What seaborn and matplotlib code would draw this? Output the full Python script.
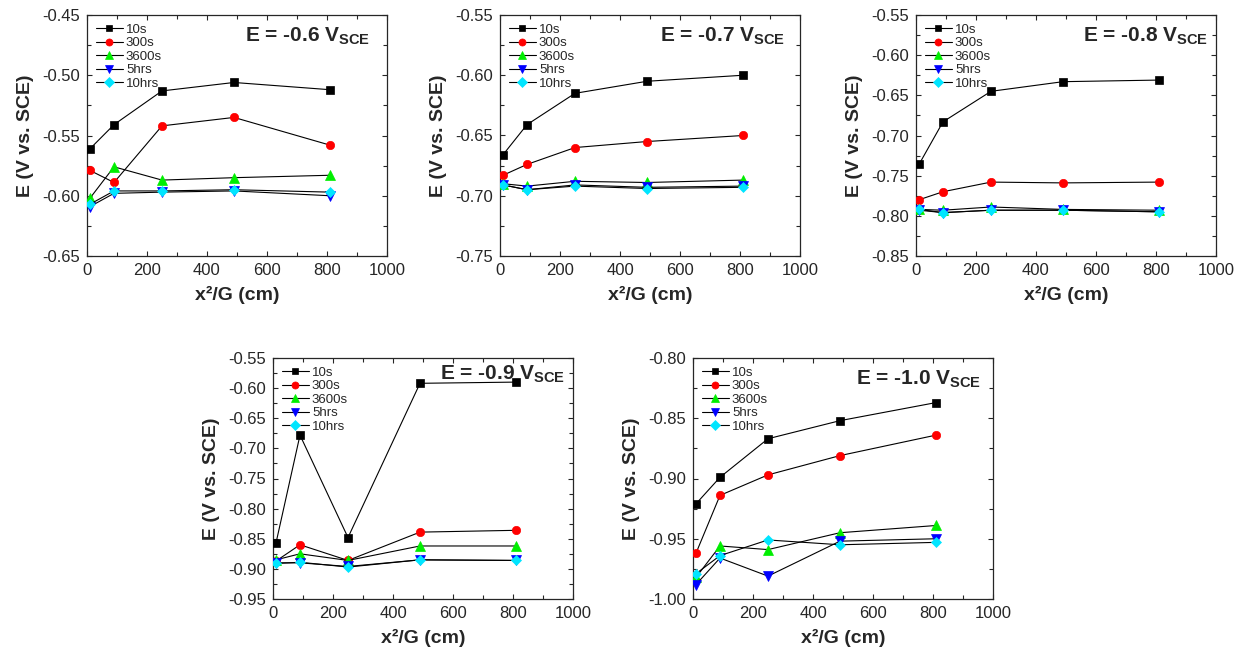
import matplotlib
matplotlib.use("Agg")
import matplotlib.pyplot as plt
import numpy as np
import pandas as pd
import seaborn as sns
from matplotlib.ticker import MultipleLocator, FormatStrFormatter

# ---------------- data ----------------
x_vals = [10, 90, 250, 490, 810]
series_labels = ["10s", "300s", "3600s", "5hrs", "10hrs"]
potentials = ["-0.6", "-0.7", "-0.8", "-0.9", "-1.0"]

e06_10s = [-0.561, -0.541, -0.513, -0.506, -0.512]
e06_300s = [-0.579, -0.589, -0.542, -0.535, -0.558]
e06_3600s = [-0.602, -0.576, -0.587, -0.585, -0.583]
e06_5hrs = [-0.609, -0.598, -0.597, -0.596, -0.600]
e06_10hrs = [-0.607, -0.596, -0.596, -0.595, -0.597]

e07_10s = [-0.666, -0.641, -0.615, -0.605, -0.600]
e07_300s = [-0.683, -0.674, -0.660, -0.655, -0.650]
e07_3600s = [-0.690, -0.692, -0.688, -0.689, -0.687]
e07_5hrs = [-0.691, -0.695, -0.691, -0.693, -0.692]
e07_10hrs = [-0.691, -0.695, -0.692, -0.694, -0.693]

e08_10s = [-0.736, -0.683, -0.645, -0.633, -0.631]
e08_300s = [-0.780, -0.770, -0.758, -0.759, -0.758]
e08_3600s = [-0.792, -0.793, -0.789, -0.792, -0.793]
e08_5hrs = [-0.793, -0.796, -0.793, -0.793, -0.795]
e08_10hrs = [-0.792, -0.796, -0.793, -0.793, -0.795]

e09_10s = [-0.857, -0.678, -0.848, -0.592, -0.590]
e09_300s = [-0.887, -0.860, -0.886, -0.839, -0.836]
e09_3600s = [-0.885, -0.875, -0.886, -0.862, -0.862]
e09_5hrs = [-0.890, -0.890, -0.896, -0.885, -0.886]
e09_10hrs = [-0.891, -0.889, -0.897, -0.885, -0.886]

e10_10s = [-0.921, -0.899, -0.867, -0.852, -0.837]
e10_300s = [-0.962, -0.914, -0.897, -0.881, -0.864]
e10_3600s = [-0.982, -0.956, -0.959, -0.945, -0.939]
e10_5hrs = [-0.988, -0.966, -0.981, -0.952, -0.950]
e10_10hrs = [-0.979, -0.964, -0.951, -0.955, -0.953]

panel_series = [
    [e06_10s, e06_300s, e06_3600s, e06_5hrs, e06_10hrs],
    [e07_10s, e07_300s, e07_3600s, e07_5hrs, e07_10hrs],
    [e08_10s, e08_300s, e08_3600s, e08_5hrs, e08_10hrs],
    [e09_10s, e09_300s, e09_3600s, e09_5hrs, e09_10hrs],
    [e10_10s, e10_300s, e10_3600s, e10_5hrs, e10_10hrs],
]
y_limits = [(-0.65, -0.45), (-0.75, -0.55), (-0.85, -0.55), (-0.95, -0.55), (-1.00, -0.80)]

# ---------------- style ----------------
sns.set_style("ticks")
plt.rcParams["font.family"] = ["Liberation Sans", "DejaVu Sans"]
plt.rcParams["axes.unicode_minus"] = False
plt.rcParams["mathtext.fontset"] = "custom"
plt.rcParams["mathtext.rm"] = "Liberation Sans"
plt.rcParams["mathtext.bf"] = "Liberation Sans:bold"

marker_styles = ["s", "o", "^", "v", "D"]
marker_colors = ["#000000", "#ff0000", "#00ee00", "#0000ff", "#00e5ff"]
marker_sizes = [5.5, 6, 6.5, 6.5, 5.5]

fig = plt.figure(figsize=(12.36, 6.58), dpi=100)
W, H = 1236, 658
boxes = [(87, 15), (500, 15), (916, 15), (273, 358), (693, 358)]
aw, ah = 300, 241
text_pos = [(0.943, 0.89), (0.95, 0.89), (0.973, 0.89), (0.973, 0.91), (0.96, 0.89)]

for i, (px, py) in enumerate(boxes):
    ax = fig.add_axes([px / W, 1 - (py + ah) / H, aw / W, ah / H])
    for j, lab in enumerate(series_labels):
        df = pd.DataFrame({"x": x_vals, "E": panel_series[i][j]})
        sns.lineplot(data=df, x="x", y="E", ax=ax, color="black", linewidth=0.8,
                     marker=marker_styles[j], markersize=marker_sizes[j],
                     markerfacecolor=marker_colors[j], markeredgecolor=marker_colors[j],
                     markeredgewidth=0.5, label=lab, zorder=3 + j)
    ax.set_xlim(0, 1000)
    ax.set_ylim(*y_limits[i])
    ax.xaxis.set_major_locator(MultipleLocator(200))
    ax.xaxis.set_minor_locator(MultipleLocator(100))
    ax.yaxis.set_major_locator(MultipleLocator(0.05))
    ax.yaxis.set_minor_locator(MultipleLocator(0.025))
    ax.yaxis.set_major_formatter(FormatStrFormatter("%.2f"))
    ax.tick_params(which="both", direction="in", top=True, right=True,
                   width=0.8, labelsize=12)
    ax.tick_params(which="major", length=3.5, pad=5)
    ax.tick_params(which="minor", length=3)
    for s in ax.spines.values():
        s.set_linewidth(0.9)
        s.set_visible(True)
    ax.set_xlabel("x²/G (cm)", fontsize=14, fontweight="bold", labelpad=6)
    ax.set_ylabel("E (V vs. SCE)", fontsize=14, fontweight="bold", labelpad=6)
    ax.legend(loc="upper left", frameon=False, fontsize=9.5, handlelength=2.1,
              handletextpad=0.2, labelspacing=0.1, borderaxespad=0.4,
              borderpad=0.25, markerscale=0.85)
    tx, ty = text_pos[i]
    ax.text(tx, ty, "E = " + potentials[i] + r" V$_\mathbf{SCE}$", transform=ax.transAxes,
            ha="right", va="baseline", fontsize=15, fontweight="bold", zorder=10)

fig.savefig("out.png", dpi=100)
